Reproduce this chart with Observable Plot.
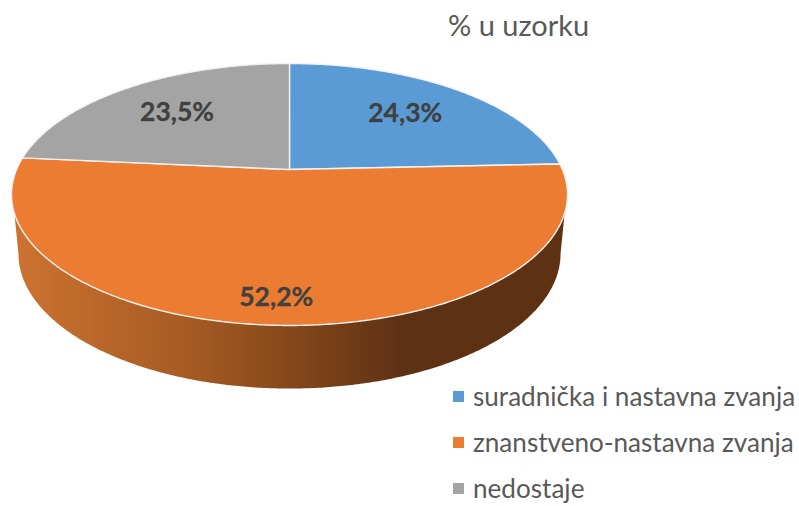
<!DOCTYPE html>
<html>
<head>
<meta charset="utf-8">
<script src="https://cdn.jsdelivr.net/npm/d3@7"></script>
<script src="https://cdn.jsdelivr.net/npm/@observablehq/plot@0.6"></script>
<style>
  html, body { margin: 0; padding: 0; background: #fff; }
  body { width: 799px; height: 506px; overflow: hidden; font-family: Lato, sans-serif; position: relative; }
  #title { height: 52px; line-height: 50px; padding-left: 448px; font-size: 29px; color: #595959; white-space: nowrap; }
  #chart { height: 338px; }
  #chart svg { display: block; }
  #legend { position: absolute; left: 453px; top: 373px; }
  .row { height: 46px; display: flex; align-items: center; white-space: nowrap; font-size: 26.1px; color: #595959; }
  .sw { width: 11px; height: 11px; margin-right: 9px; flex: none; }
</style>
</head>
<body>
<div id="title"></div>
<div id="chart"></div>
<div id="legend"></div>
<script>
const titleText = "% u uzorku";
const categories = ["suradnička i nastavna zvanja", "znanstveno-nastavna zvanja", "nedostaje"];
const shares = [24.3, 52.2, 23.5];
const labels = ["24,3%", "52,2%", "23,5%"];
const colors = ["#5b9bd5", "#eb7c31", "#a4a4a4"];

// Perspective of the tilted disc
const k = 0.1908;
const project = (deg, r = 1) => {
  const a = deg * Math.PI / 180, d = 1 + k * r * Math.cos(a);
  return {u: r * Math.sin(a) / d, v: -r * Math.cos(a) / d};
};
// Lower rim of the disc, relative to the top face (in disc units)
const rimScaleX = 0.975, rimScaleY = 1.03, rimDrop = 0.4628;
const rim = (deg) => {
  const p = project(deg);
  return {u: p.u * rimScaleX, v: p.v * rimScaleY + rimDrop};
};

const totals = d3.cumsum(shares);
const sum = shares.reduce((a, b) => a + b, 0);
const toDeg = (s) => s / sum * 360;

const slices = categories.flatMap((name, i) => {
  const a0 = toDeg(i ? totals[i - 1] : 0), a1 = toDeg(totals[i]);
  const arc = d3.range(a0, a1, 0.5).concat(a1).map((d) => ({name, ...project(d)}));
  const c = {name, u: 0, v: 0};
  return [c, ...arc, c];
});

const wall = [
  ...d3.range(109, 251.5, 0.5).map((d) => project(d)),
  ...d3.range(259, 100.5, -0.5).map((d) => rim(d))
];

const labelData = categories.map((name, i) => {
  const mid = toDeg((i ? totals[i - 1] : 0) + shares[i] / 2);
  const big = shares[i] > 50;
  return {label: labels[i], ...project(big ? mid + 1.3 : mid, big ? 0.85 : 0.67)};
});

const plot = Plot.plot({
  width: 799,
  height: 338,
  margin: 0,
  style: {background: "transparent", overflow: "visible"},
  x: {axis: null, domain: [-1, 1], range: [16.1, 561.9]},
  y: {axis: null, domain: [-1, 1], range: [-9.2, 243.2]},
  color: {domain: categories, range: colors},
  marks: [
    () => {
      const ns = "http://www.w3.org/2000/svg";
      const defs = document.createElementNS(ns, "defs");
      const g = document.createElementNS(ns, "linearGradient");
      g.setAttribute("id", "wallShade");
      [[0, "#cc7330"], [0.34, "#a35922"], [0.5, "#85481b"], [0.7, "#5f3113"], [1, "#5f3113"]].forEach(([o, c]) => {
        const s = document.createElementNS(ns, "stop");
        s.setAttribute("offset", o);
        s.setAttribute("stop-color", c);
        g.appendChild(s);
      });
      defs.appendChild(g);
      return defs;
    },
    Plot.line(wall, {x: "u", y: "v", fill: "url(#wallShade)", stroke: "none", curve: "linear"}),
    Plot.line(slices, {x: "u", y: "v", z: "name", fill: "name", stroke: "#f2f2f2", strokeWidth: 1.4, curve: "linear"}),
    Plot.text(labelData, {
      x: "u", y: "v", text: "label",
      fontFamily: "Lato, sans-serif", fontWeight: 700, fontSize: 26.5,
      fill: "#404040", stroke: "#404040", strokeWidth: 0.3,
      textAnchor: "middle", lineAnchor: "middle"
    })
  ]
});
document.getElementById("chart").appendChild(plot);
document.getElementById("title").textContent = titleText;
const legend = document.getElementById("legend");
categories.forEach((name, i) => {
  const row = document.createElement("div");
  row.className = "row";
  const sw = document.createElement("span");
  sw.className = "sw";
  sw.style.background = colors[i];
  const t = document.createElement("span");
  t.textContent = name;
  row.append(sw, t);
  legend.appendChild(row);
});
</script>
</body>
</html>
